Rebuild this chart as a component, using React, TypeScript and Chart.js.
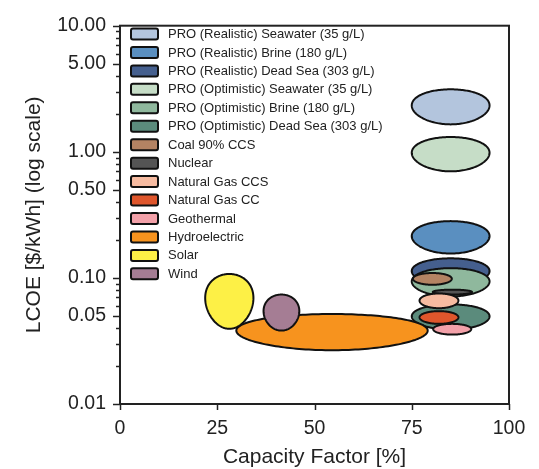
import React, { useEffect, useRef } from "react";
import { Chart, registerables } from "chart.js";

Chart.register(...registerables);

// ---- Data ----
const techLabels = [
  "PRO (Realistic) Seawater (35 g/L)",
  "PRO (Realistic) Brine (180 g/L)",
  "PRO (Realistic) Dead Sea (303 g/L)",
  "PRO (Optimistic) Seawater (35 g/L)",
  "PRO (Optimistic) Brine (180 g/L)",
  "PRO (Optimistic) Dead Sea (303 g/L)",
  "Coal 90% CCS",
  "Nuclear",
  "Natural Gas CCS",
  "Natural Gas CC",
  "Geothermal",
  "Hydroelectric",
  "Solar",
  "Wind",
];
const techColors = [
  "#b3c5dd",
  "#5a8fc0",
  "#455f8e",
  "#c6ddc7",
  "#8fb89d",
  "#5b8b7c",
  "#b48363",
  "#545454",
  "#f6bba1",
  "#df562c",
  "#f3a1a9",
  "#f7931e",
  "#fdf046",
  "#a57d94",
];
// capacity factor range [%]
const cfMin = [75, 75, 75, 75, 75, 75, 75.3, 80.4, 77, 77, 80.5, 29.9, 21.9, 36.9];
const cfMax = [95, 95, 95, 95, 95, 95, 85.3, 90.5, 87, 87, 90.3, 79.1, 34.3, 46.1];
// LCOE range [$/kWh]
const lcoeMin = [1.65, 0.156, 0.087, 0.7, 0.0712, 0.0388, 0.0882, 0.0738, 0.0575, 0.0432, 0.0355, 0.0267, 0.0395, 0.0382];
const lcoeMax = [3.13, 0.282, 0.143, 1.31, 0.1195, 0.0617, 0.1093, 0.0807, 0.0752, 0.0545, 0.0432, 0.0517, 0.1074, 0.0738];

const xTicks = [0, 25, 50, 75, 100];
const yDecades = [0.01, 0.1, 1];
const yMantissas = [1, 2, 3, 4, 5, 6, 7, 8, 9];
const yLabeledMantissas = [1, 5];

const FONT = "'Liberation Sans', Arial, Helvetica, sans-serif";
const INK = "#222";

function mantissaOf(v: number) {
  const e = Math.floor(Math.log10(v) + 1e-9);
  return Math.round(v / Math.pow(10, e));
}

const ellipsePlugin = {
  id: "ellipses",
  beforeDatasetsDraw(chart: any) {
    const { ctx, chartArea, scales } = chart;
    const xs = scales.x;
    const ys = scales.y;
    ctx.save();
    ctx.beginPath();
    ctx.rect(chartArea.left, chartArea.top, chartArea.right - chartArea.left, chartArea.bottom - chartArea.top);
    ctx.clip();
    chart.data.datasets.forEach((ds: any) => {
      const a = ds.data[0];
      const b = ds.data[1];
      const cx = (a.x + b.x) / 2;
      const rx = (b.x - a.x) / 2;
      // ellipse built in sqrt(LCOE) space, then mapped through the log axis
      const ua = Math.sqrt(a.y);
      const ub = Math.sqrt(b.y);
      const cu = (ua + ub) / 2;
      const ru = (ub - ua) / 2;
      ctx.beginPath();
      const N = 180;
      for (let i = 0; i <= N; i++) {
        const t = (i / N) * Math.PI * 2;
        const u = cu + ru * Math.sin(t);
        const px = xs.getPixelForValue(cx + rx * Math.cos(t));
        const py = ys.getPixelForValue(u * u);
        if (i === 0) ctx.moveTo(px, py);
        else ctx.lineTo(px, py);
      }
      ctx.closePath();
      ctx.fillStyle = ds.backgroundColor;
      ctx.fill();
      ctx.lineWidth = 2;
      ctx.lineJoin = "round";
      ctx.strokeStyle = "#111";
      ctx.stroke();
    });
    ctx.restore();
  },
  afterDraw(chart: any) {
    const { ctx, chartArea, scales } = chart;
    const xs = scales.x;
    const ys = scales.y;
    ctx.save();
    // frame
    ctx.strokeStyle = INK;
    ctx.lineWidth = 2;
    ctx.strokeRect(chartArea.left, chartArea.top, chartArea.right - chartArea.left, chartArea.bottom - chartArea.top);
    // y ticks
    ctx.lineWidth = 1.5;
    ys.ticks.forEach((t: any) => {
      const py = Math.round(ys.getPixelForValue(t.value)) + 0.5;
      const major = yLabeledMantissas.includes(mantissaOf(t.value));
      const len = major ? 7 : 4;
      ctx.beginPath();
      ctx.moveTo(chartArea.left - len, py);
      ctx.lineTo(chartArea.left, py);
      ctx.stroke();
    });
    // x ticks
    xs.ticks.forEach((t: any) => {
      const px = Math.round(xs.getPixelForValue(t.value)) + 0.5;
      ctx.beginPath();
      ctx.moveTo(px, chartArea.bottom);
      ctx.lineTo(px, chartArea.bottom + 6);
      ctx.stroke();
    });
    // legend
    const rowH = 18.45;
    const top = 34;
    ctx.font = `13px ${FONT}`;
    ctx.textBaseline = "middle";
    ctx.textAlign = "left";
    chart.data.datasets.forEach((ds: any, i: number) => {
      const y = top + i * rowH;
      ctx.beginPath();
      ctx.roundRect(131, y - 5.5, 27, 11, 2);
      ctx.fillStyle = ds.backgroundColor;
      ctx.fill();
      ctx.lineWidth = 2;
      ctx.strokeStyle = "#111";
      ctx.stroke();
      ctx.fillStyle = INK;
      ctx.fillText(ds.label, 168, y + 0.5);
    });
    ctx.restore();
  },
};

export default function App() {
  const ref = useRef<HTMLCanvasElement>(null);
  useEffect(() => {
    if (!ref.current) return;
    const datasets = techLabels.map((label, i) => ({
      label,
      backgroundColor: techColors[i],
      borderColor: "#111",
      data: [
        { x: cfMin[i], y: lcoeMin[i] },
        { x: cfMax[i], y: lcoeMax[i] },
      ],
      pointRadius: 0,
      pointHoverRadius: 0,
      showLine: false,
    }));
    const yTickValues: number[] = [];
    yDecades.forEach((d) => yMantissas.forEach((m) => yTickValues.push(parseFloat((m * d).toPrecision(6)))));
    yTickValues.push(10);

    const chart = new Chart(ref.current, {
      type: "scatter",
      data: { datasets },
      options: {
        animation: false,
        responsive: false,
        events: [],
        layout: { padding: { left: 0, top: 17, right: 30, bottom: 0 } },
        plugins: { legend: { display: false }, tooltip: { enabled: false } },
        scales: {
          x: {
            type: "linear",
            min: 0,
            max: 100,
            afterFit: (s: any) => {
              s.height = 65;
            },
            afterBuildTicks: (s: any) => {
              s.ticks = xTicks.map((v) => ({ value: v }));
            },
            grid: { display: false, drawTicks: false },
            border: { display: false },
            ticks: {
              color: INK,
              font: { family: FONT, size: 19.5 },
              padding: 13,
              maxRotation: 0,
              autoSkip: false,
            },
            title: {
              display: true,
              text: "Capacity Factor [%]",
              color: INK,
              font: { family: FONT, size: 21, lineHeight: 1.15 },
              padding: { top: 0, bottom: 0 },
            },
          },
          y: {
            type: "logarithmic",
            min: 0.01,
            max: 10,
            afterFit: (s: any) => {
              s.width = 120;
            },
            afterBuildTicks: (s: any) => {
              s.ticks = yTickValues.map((v) => ({ value: v }));
            },
            grid: { display: false, drawTicks: false },
            border: { display: false },
            ticks: {
              color: INK,
              font: { family: FONT, size: 19.5 },
              padding: 14,
              autoSkip: false,
              callback: (v: any) => {
                const val = Number(v);
                return yLabeledMantissas.includes(mantissaOf(val)) ? val.toFixed(2) : "";
              },
            },
            title: {
              display: true,
              text: "LCOE [$/kWh] (log scale)",
              color: INK,
              font: { family: FONT, size: 21, lineHeight: 1.15 },
              padding: { top: 22, bottom: 0 },
            },
          },
        },
      },
      plugins: [ellipsePlugin],
    });
    return () => chart.destroy();
  }, []);

  return (
    <div style={{ position: "fixed", left: 0, top: 0, width: 539, height: 469, background: "#fff" }}>
      <canvas ref={ref} width={539} height={469} style={{ display: "block" }} />
    </div>
  );
}
